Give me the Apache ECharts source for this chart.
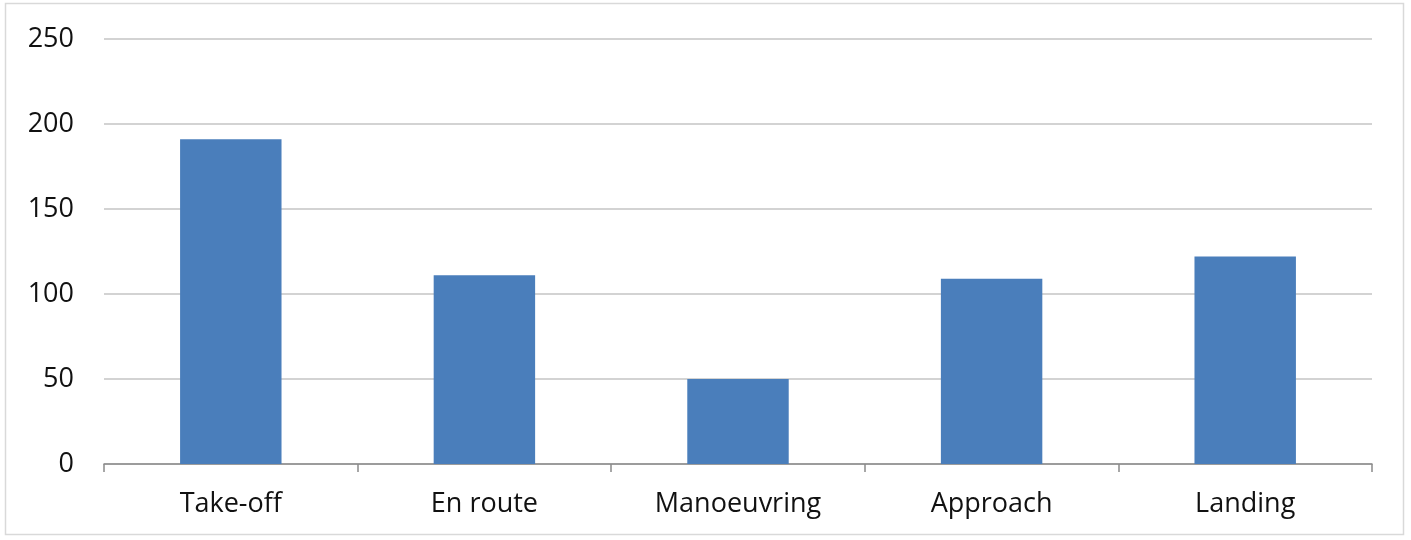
<!DOCTYPE html>
<html>
<head>
<meta charset="utf-8">
<script src="https://cdn.jsdelivr.net/npm/echarts@6/dist/echarts.min.js"></script>
<style>
  html, body { margin: 0; padding: 0; background: #ffffff; }
  #chart { width: 1411px; height: 540px; }
</style>
</head>
<body>
<div id="chart"></div>
<script>
// Flight phases and their counts
const categories = ['Take-off', 'En route', 'Manoeuvring', 'Approach', 'Landing'];
const counts = [191, 111, 50, 109, 122];
const yTicks = { min: 0, max: 250, interval: 50 };

const chart = echarts.init(document.getElementById('chart'));
const font = '"Open Sans", "Liberation Sans", sans-serif';

chart.setOption({
  animation: false,
  backgroundColor: '#ffffff',
  graphic: [{
    type: 'rect',
    shape: { x: 5.5, y: 3.5, width: 1398, height: 531 },
    style: { fill: 'none', stroke: '#d9d9d9', lineWidth: 1.5 },
    silent: true
  }],
  grid: { left: 104, right: 39, top: 39, bottom: 76, containLabel: false },
  xAxis: {
    type: 'category',
    data: categories,
    boundaryGap: true,
    axisLine: { show: true, lineStyle: { color: '#8a8a8a', width: 1.5 } },
    axisTick: { show: true, alignWithLabel: false, length: 8, lineStyle: { color: '#8a8a8a', width: 1.5 } },
    axisLabel: { color: '#111111', fontSize: 27, fontFamily: font, margin: 27 }
  },
  yAxis: {
    type: 'value',
    min: yTicks.min,
    max: yTicks.max,
    interval: yTicks.interval,
    axisLine: { show: false },
    axisTick: { show: false },
    splitLine: { show: true, lineStyle: { color: '#c4c4c4', width: 1.5 } },
    axisLabel: { color: '#111111', fontSize: 27, fontFamily: font, margin: 30 }
  },
  series: [{
    type: 'bar',
    data: counts,
    barWidth: '40%',
    itemStyle: { color: '#4a7ebb' }
  }]
});
</script>
</body>
</html>
